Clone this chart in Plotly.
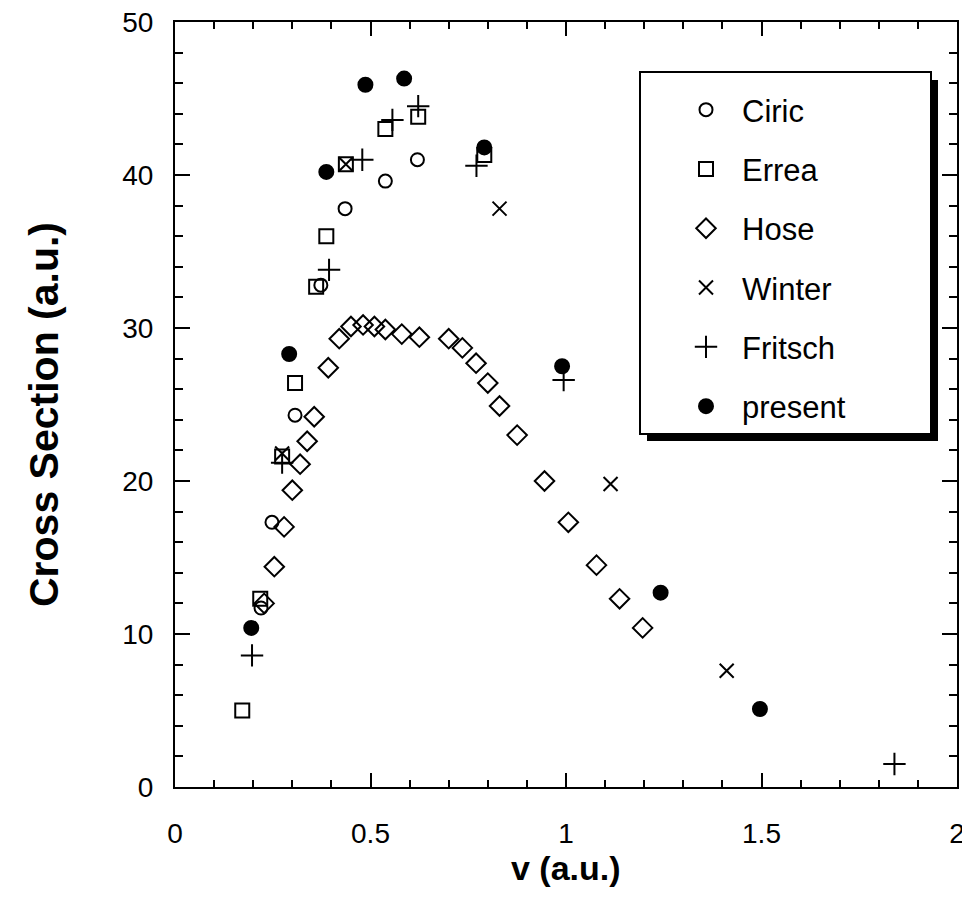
import plotly.graph_objects as go

# ---- data ----
ciric_x = [0.220, 0.248, 0.307, 0.373, 0.435, 0.538, 0.620]
ciric_y = [11.7, 17.3, 24.3, 32.8, 37.8, 39.6, 41.0]

errea_x = [0.172, 0.218, 0.274, 0.307, 0.361, 0.387, 0.437, 0.538, 0.622, 0.791]
errea_y = [5.0, 12.3, 21.6, 26.4, 32.7, 36.0, 40.7, 43.0, 43.8, 41.3]

hose_x = [0.228, 0.254, 0.279, 0.300, 0.320, 0.338, 0.356, 0.392, 0.420, 0.450,
          0.481, 0.510, 0.538, 0.580, 0.625, 0.700, 0.735, 0.770, 0.800, 0.830,
          0.875, 0.945, 1.006, 1.078, 1.137, 1.196]
hose_y = [12.0, 14.4, 17.0, 19.4, 21.1, 22.6, 24.2, 27.4, 29.3, 30.1,
          30.2, 30.1, 29.9, 29.6, 29.4, 29.3, 28.7, 27.7, 26.4, 24.9,
          23.0, 20.0, 17.3, 14.5, 12.3, 10.4]

winter_x = [0.274, 0.437, 0.830, 1.114, 1.411]
winter_y = [21.8, 40.7, 37.8, 19.8, 7.6]

fritsch_x = [0.197, 0.274, 0.394, 0.479, 0.556, 0.622, 0.771, 0.994, 1.840]
fritsch_y = [8.6, 21.2, 33.8, 41.0, 43.6, 44.5, 40.6, 26.6, 1.5]

present_x = [0.195, 0.292, 0.387, 0.487, 0.586, 0.791, 0.990, 1.242, 1.496]
present_y = [10.4, 28.3, 40.2, 45.9, 46.3, 41.8, 27.5, 12.7, 5.1]

x_ticks = [0, 0.5, 1, 1.5, 2]
x_tick_labels = ["0", "0.5", "1", "1.5", "2"]
y_ticks = [0, 10, 20, 30, 40, 50]
y_tick_labels = ["0", "10", "20", "30", "40", "50"]

x_title = "v (a.u.)"
y_title = "Cross Section (a.u.)"

FONT = "Liberation Sans, Arial, Helvetica, sans-serif"

series = [
    ("Ciric", ciric_x, ciric_y, "circle-open", 13),
    ("Errea", errea_x, errea_y, "square-open", 14),
    ("Hose", hose_x, hose_y, "diamond-open", 15),
    ("Winter", winter_x, winter_y, "x-thin-open", 14),
    ("Fritsch", fritsch_x, fritsch_y, "cross-thin-open", 16),
    ("present", present_x, present_y, "circle", 14),
]

fig = go.Figure()
for name, xs, ys, sym, sz in series:
    fig.add_trace(go.Scatter(
        x=xs, y=ys, mode="markers", name=name, legendgroup=name,
        marker=dict(symbol=sym, size=sz, color="black",
                    line=dict(color="black", width=2)),
    ))

# page has an 8px body margin; positions below are in figure coordinates
OFF = 8
FW, FH = 960, 896
L = 175 - OFF
T = 22 - OFF
W = 782
H = 765


def px(xabs):
    return (xabs - OFF - L) / W


def py(yabs):
    return 1 - (yabs - OFF - T) / H


# legend box with drop shadow (drawn as shapes, legend itself transparent)
fig.add_shape(type="rect", xref="paper", yref="paper",
              x0=px(647), x1=px(938), y0=py(441), y1=py(80),
              fillcolor="black", line=dict(width=0), layer="above")
fig.add_shape(type="rect", xref="paper", yref="paper",
              x0=px(640), x1=px(931), y0=py(434), y1=py(72),
              fillcolor="white", line=dict(color="black", width=2), layer="above")

axis_common = dict(
    showline=True, linecolor="black", linewidth=2, mirror="ticks",
    ticks="inside", tickcolor="black", tickwidth=2,
    showgrid=False, zeroline=False, ticklabeloverflow="allow",
    automargin=False,
    tickfont=dict(family=FONT, size=28, color="black"),
)

fig.update_xaxes(
    range=[0, 2], tickvals=x_ticks, ticktext=x_tick_labels, ticklen=14,
    minor=dict(ticks="inside", dtick=0.1, ticklen=7, tickwidth=2, tickcolor="black"),
    ticklabelstandoff=20,
    **axis_common,
)
fig.update_yaxes(
    range=[0, 50], tickvals=y_ticks, ticktext=y_tick_labels, ticklen=15,
    minor=dict(ticks="inside", dtick=2, ticklen=8, tickwidth=2, tickcolor="black"),
    ticklabelstandoff=14,
    **axis_common,
)

# axis titles
fig.add_annotation(text="<b>" + x_title + "</b>", xref="paper", yref="paper",
                   x=px(566), y=py(868), xanchor="center", yanchor="middle",
                   showarrow=False, font=dict(family=FONT, size=34, color="black"))
fig.add_annotation(text="<b>" + y_title + "</b>", xref="paper", yref="paper",
                   x=px(44), y=py(415), xanchor="center", yanchor="middle",
                   textangle=-90, showarrow=False,
                   font=dict(family=FONT, size=41, color="black"))

fig.update_layout(
    width=FW, height=FH,
    margin=dict(l=L, r=FW - L - W, t=T, b=FH - T - H),
    paper_bgcolor="white", plot_bgcolor="white",
    showlegend=True,
    legend=dict(
        x=px(670), y=py(83), xanchor="left", yanchor="top",
        bgcolor="rgba(0,0,0,0)", borderwidth=0,
        font=dict(family=FONT, size=31, color="black"),
        tracegroupgap=16, itemwidth=62,
    ),
)

fig.write_html("out.html")
